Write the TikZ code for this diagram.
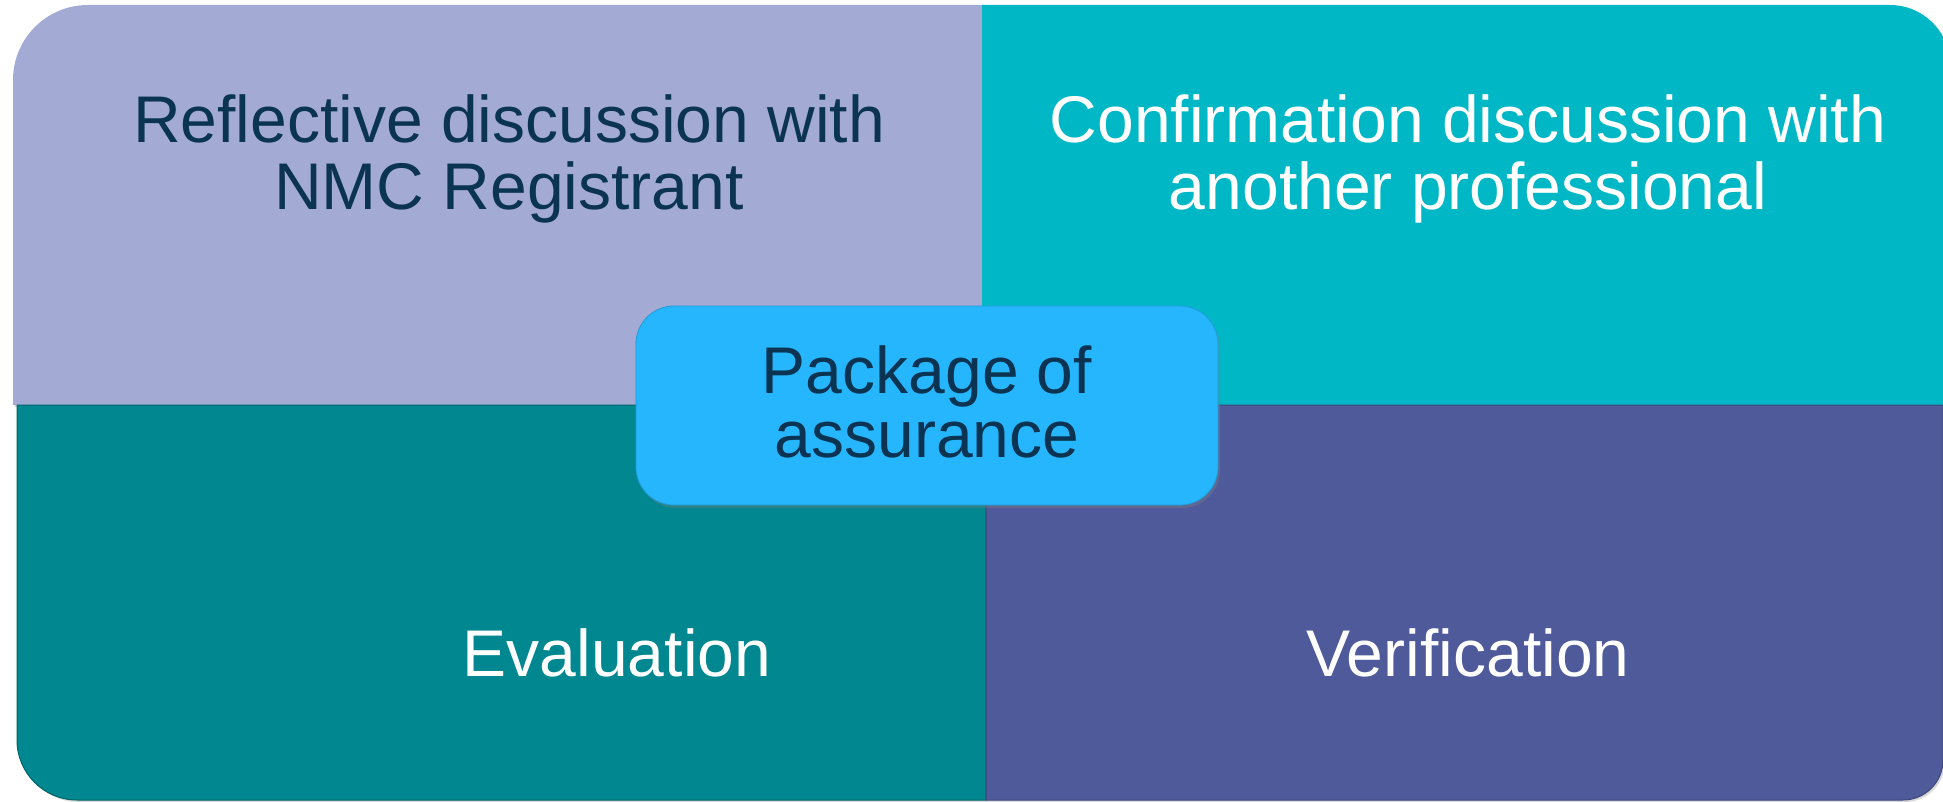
\documentclass[tikz,border=0pt]{standalone}
\usepackage{fontspec}
\setmainfont{Liberation Sans}
\usetikzlibrary{shadows}
\definecolor{tlc}{HTML}{A3AAD3}
\definecolor{trc}{HTML}{00B7C6}
\definecolor{blc}{HTML}{00878F}
\definecolor{brc}{HTML}{4F5A9B}
\definecolor{boxc}{HTML}{26B6FE}
\definecolor{navy}{HTML}{0A3451}
\begin{document}
\begin{tikzpicture}[x=1pt,y=-1pt,
  quad/.style={drop shadow={shadow xshift=2pt,shadow yshift=-2pt,opacity=0.3}},
  lbl/.style={anchor=base,inner sep=0pt,font=\fontsize{66}{66}\selectfont},
  darktext/.style={lbl,text=navy},
  lighttext/.style={lbl,text=white}]
\fill[white] (0,0) rectangle (1943,802);
\useasboundingbox (0,0) rectangle (1943,802);
% top-left
\path[fill=tlc,quad] (13,405) -- (13,200) [rounded corners=75pt] -- (13,5) -- (300,5) [sharp corners] -- (982,5) -- (982,405) -- cycle;
% top-right
\path[fill=trc,quad] (982,405) -- (982,5) -- (1700,5) [rounded corners=60pt] -- (1950,5) -- (1950,200) [sharp corners] -- (1950,405) -- cycle;
% bottom-left
\path[fill=blc,draw=blc!75!black,line width=1pt,quad] (986,405) -- (17,405) -- (17,600) [rounded corners=60pt] -- (17,800) -- (300,800) [sharp corners] -- (986,800) -- cycle;
% bottom-right
\path[fill=brc,draw=brc!80!black,line width=1pt,quad] (986,800) -- (986,405) -- (1943,405) -- (1943,600) [rounded corners=40pt] -- (1943,800) -- (1700,800) [sharp corners] -- cycle;
% centre box
\node[draw=boxc!85!black,line width=0.8pt,fill=boxc,rounded corners=38pt,minimum width=582pt,minimum height=199pt,
  drop shadow={shadow xshift=2pt,shadow yshift=-3pt,opacity=0.35}] (box) at (927,405.5) {};
% texts
\node[darktext] (tla) at (509,143) {Reflective discussion with};
\node[darktext] (tlb) at (509,210) {NMC Registrant};
\node[lighttext] (tra) at (1468,143) {Confirmation discussion with};
\node[lighttext] (trb) at (1468,210) {another professional};
\node[darktext] (bxa) at (927,393) {Package of};
\node[darktext] (bxb) at (927,457) {assurance};
\node[lighttext] (bl) at (617,676) {Evaluation};
\node[lighttext] (br) at (1468,676) {Verification};
\end{tikzpicture}
\end{document}
